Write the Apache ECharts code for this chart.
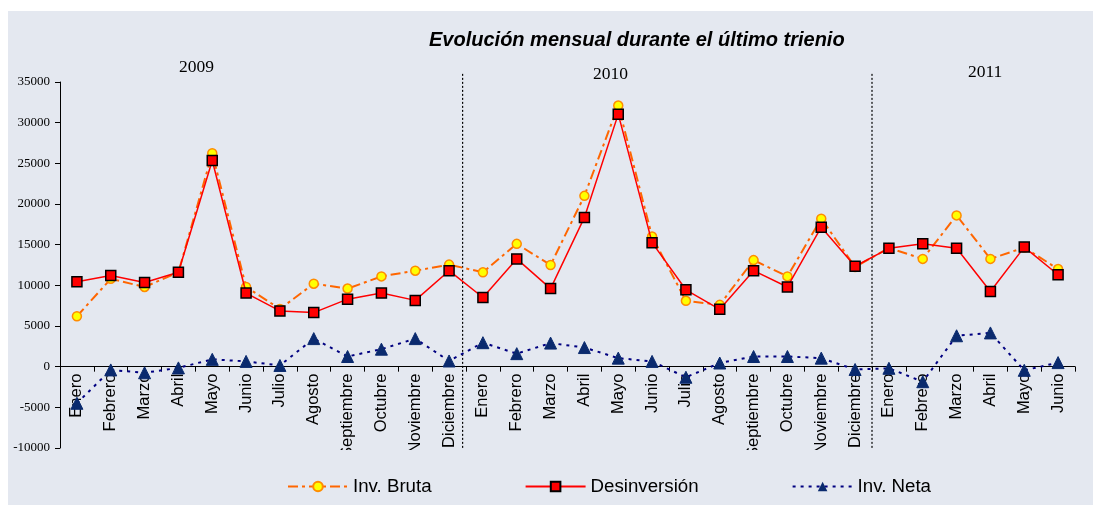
<!DOCTYPE html>
<html>
<head>
<meta charset="utf-8">
<script src="https://cdn.jsdelivr.net/npm/echarts@6/dist/echarts.min.js"></script>
<style>
  html, body { margin: 0; padding: 0; background: #ffffff; }
  #wrap { position: relative; width: 1093px; height: 505px; background: #ffffff; overflow: hidden; }
  #chart { position: absolute; left: 8px; top: 11px; width: 1085px; height: 494px; background: #E4E8F0; }
</style>
</head>
<body>
<div id="wrap"><div id="chart"></div></div>
<script>
const months = ['Enero','Febrero','Marzo','Abril','Mayo','Junio','Julio','Agosto','Septiembre','Octubre','Noviembre','Diciembre',
                'Enero','Febrero','Marzo','Abril','Mayo','Junio','Julio','Agosto','Septiembre','Octubre','Noviembre','Diciembre',
                'Enero','Febrero','Marzo','Abril','Mayo','Junio'];
const years = ['2009','2010','2011'];
const yearBreaks = [11.9, 24];
const invBruta = [6200,10800,9800,11600,26250,9800,7100,10200,9600,11100,11800,12550,
                  11600,15100,12500,21000,32100,16000,8100,7600,13100,11100,18200,12250,
                  14600,13250,18600,13250,14650,12000];
const desinversion = [10450,11200,10350,11600,25350,9050,6850,6650,8300,9050,8150,11800,
                      8500,13250,9600,18350,31050,15250,9450,7050,11800,9800,17150,12350,
                      14550,15100,14550,9250,14700,11300];
const invNeta = [-4500,-400,-750,-150,900,650,150,3450,1250,2150,3450,700,
                 2950,1600,2900,2350,1050,650,-1300,450,1250,1250,1050,-350,
                 -200,-1850,3800,4150,-450,500];
const yTicks = {min: -10000, max: 35000, interval: 5000};
const sepTop = 36000;

const chart = echarts.init(document.getElementById('chart'), null, {renderer: 'canvas'});
const sans = 'Liberation Sans, Arial, sans-serif';
const serif = 'Liberation Serif, Times New Roman, serif';
const bg = '#E4E8F0';

const gridTop = 71, gridBottom = 57, chartH = 494;
const gridH = chartH - gridTop - gridBottom;
// move the category axis (line, ticks, labels) up to the zero value
const zeroOffset = -gridH * (0 - yTicks.min) / (yTicks.max - yTicks.min);

const sepSeries = yearBreaks.map((b, i) => ({
  name: 'sep' + i, type: 'line', xAxisIndex: 1, clip: false, silent: true,
  data: [[b, sepTop], [b, yTicks.min]],
  symbol: 'none', z: 1,
  lineStyle: {color: '#000', type: [2, 2], width: 1.2}
}));

chart.setOption({
  animation: false,
  title: {
    text: 'Evolución mensual durante el último trienio',
    left: 421, top: 19, padding: 0,
    textStyle: {fontFamily: sans, fontSize: 20, fontWeight: 'bold', fontStyle: 'italic', color: '#000'}
  },
  graphic: [
    {type: 'text', left: 171, top: 47, style: {text: years[0], font: '17.5px ' + serif, fill: '#000'}},
    {type: 'text', left: 585, top: 54, style: {text: years[1], font: '17.5px ' + serif, fill: '#000'}},
    {type: 'text', left: 960, top: 52, style: {text: years[2], font: '17.5px ' + serif, fill: '#000'}},
    {type: 'rect', left: 40, top: 439, z: 100, shape: {width: 1045, height: 14}, style: {fill: bg}}
  ],
  legend: {
    left: 274, top: 461, itemWidth: 60, itemHeight: 12, itemGap: 93,
    textStyle: {fontFamily: sans, fontSize: 18.7, color: '#000'},
    data: ['Inv. Bruta', 'Desinversión', 'Inv. Neta']
  },
  grid: {left: 52, right: 18, top: gridTop, bottom: gridBottom, containLabel: false, outerBoundsMode: 'none'},
  xAxis: [{
    type: 'category', data: months, boundaryGap: true, offset: zeroOffset, z: 0,
    axisLine: {onZero: false, lineStyle: {color: '#000', width: 1}},
    axisTick: {show: true, length: 5, lineStyle: {color: '#000'}},
    axisLabel: {rotate: 90, interval: 0, margin: 7, fontFamily: sans, fontSize: 16.5, color: '#000'},
    splitLine: {show: false}
  }, {
    type: 'value', min: 0, max: months.length, show: false
  }],
  yAxis: {
    type: 'value', min: yTicks.min, max: yTicks.max, interval: yTicks.interval,
    axisLine: {show: true, lineStyle: {color: '#000', width: 1}},
    axisTick: {show: true, length: 5, lineStyle: {color: '#000'}},
    axisLabel: {margin: 10, fontFamily: serif, fontSize: 13, color: '#000', formatter: v => String(v)},
    splitLine: {show: false}
  },
  series: sepSeries.concat([
    {
      name: 'Inv. Neta', type: 'line', data: invNeta, z: 5,
      symbol: 'triangle', symbolSize: 12,
      itemStyle: {color: '#0A2A6E', borderColor: '#0A2A6E'},
      lineStyle: {color: '#000080', width: 2, type: [3, 5]}
    },
    {
      name: 'Inv. Bruta', type: 'line', data: invBruta, z: 6,
      symbol: 'circle', symbolSize: 9,
      itemStyle: {color: '#FFFF00', borderColor: '#FF8C00', borderWidth: 1.5},
      lineStyle: {color: '#FF6600', width: 2, type: [10, 4, 3, 4]}
    },
    {
      name: 'Desinversión', type: 'line', data: desinversion, z: 7,
      symbol: 'rect', symbolSize: 10,
      itemStyle: {color: '#FF0000', borderColor: '#000', borderWidth: 1.5},
      lineStyle: {color: '#FF0000', width: 1.5}
    }
  ])
});
</script>
</body>
</html>
